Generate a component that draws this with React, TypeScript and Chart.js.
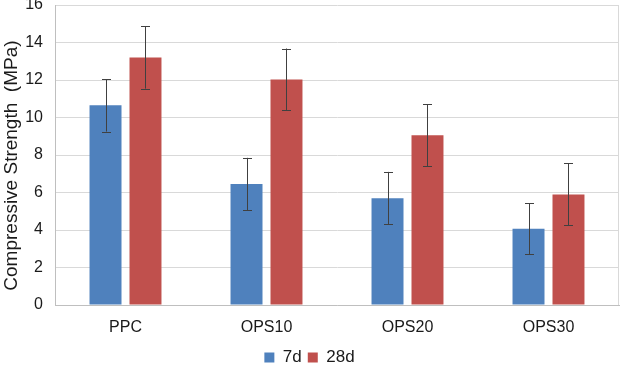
import React, { useEffect, useRef } from "react";
import { Chart, registerables } from "chart.js";

Chart.register(...registerables);

const categories = ["PPC", "OPS10", "OPS20", "OPS30"];
const seriesNames = ["7d", "28d"];
const values7d = [10.65, 6.45, 5.7, 4.07];
const values28d = [13.2, 12.03, 9.05, 5.9];
const err7d = [1.4, 1.4, 1.4, 1.37];
const err28d = [1.66, 1.65, 1.65, 1.65];
const yTicksMax = 16;
const yStep = 2;

const errorBarPlugin = {
  id: "errorBars",
  afterDatasetsDraw(chart: any) {
    const ctx = chart.ctx;
    const yScale = chart.scales.y;
    chart.data.datasets.forEach((ds: any, di: number) => {
      const meta = chart.getDatasetMeta(di);
      const errs = ds.errors as number[];
      meta.data.forEach((bar: any, i: number) => {
        const v = ds.data[i];
        const e = errs[i];
        const x = Math.round(bar.x) + 0.5;
        const yTop = yScale.getPixelForValue(v + e);
        const yBot = yScale.getPixelForValue(v - e);
        ctx.save();
        ctx.strokeStyle = "#404040";
        ctx.lineWidth = 1;
        ctx.beginPath();
        ctx.moveTo(x, yTop);
        ctx.lineTo(x, yBot);
        ctx.moveTo(x - 4.5, Math.round(yTop) + 0.5);
        ctx.lineTo(x + 4.5, Math.round(yTop) + 0.5);
        ctx.moveTo(x - 4.5, Math.round(yBot) + 0.5);
        ctx.lineTo(x + 4.5, Math.round(yBot) + 0.5);
        ctx.stroke();
        ctx.restore();
      });
    });
  },
};

const borderPlugin = {
  id: "areaBorder",
  afterDraw(chart: any) {
    const { ctx, chartArea } = chart;
    ctx.save();
    ctx.strokeStyle = "#D9D9D9";
    ctx.lineWidth = 1;
    ctx.beginPath();
    const x = Math.round(chartArea.right) - 0.5;
    ctx.moveTo(x, chartArea.top);
    ctx.lineTo(x, chartArea.bottom);
    ctx.stroke();
    ctx.restore();
  },
};

export default function App() {
  const canvasRef = useRef<HTMLCanvasElement>(null);

  useEffect(() => {
    document.body.style.margin = "0";
    const canvas = canvasRef.current;
    if (!canvas) return;
    const font = "'Liberation Sans', Arial, sans-serif";
    const chart = new Chart(canvas, {
      type: "bar",
      data: {
        labels: categories,
        datasets: [
          {
            label: seriesNames[0],
            data: values7d,
            errors: err7d,
            backgroundColor: "#4F81BD",
            borderWidth: 0,
            categoryPercentage: 0.567,
            barPercentage: 0.8,
          } as any,
          {
            label: seriesNames[1],
            data: values28d,
            errors: err28d,
            backgroundColor: "#C0504D",
            borderWidth: 0,
            categoryPercentage: 0.567,
            barPercentage: 0.8,
          } as any,
        ],
      },
      options: {
        animation: false,
        responsive: false,
        maintainAspectRatio: false,
        layout: { padding: { top: 5, right: 1, bottom: -10, left: 0 } },
        plugins: {
          legend: {
            position: "bottom",
            labels: {
              boxWidth: 10,
              boxHeight: 10,
              padding: 6,
              color: "#1a1a1a",
              font: { family: font, size: 17 },
            },
          },
          tooltip: { enabled: false },
        },
        scales: {
          x: {
            grid: { display: false },
            border: { color: "#BFBFBF" },
            ticks: {
              color: "#1a1a1a",
              font: { family: font, size: 16 },
              padding: 5,
            },
            afterFit(scale: any) {
              scale.height = 38;
            },
          },
          y: {
            min: 0,
            max: yTicksMax,
            grid: { color: "#D9D9D9", drawTicks: false },
            border: { color: "#BFBFBF" },
            ticks: {
              stepSize: yStep,
              color: "#1a1a1a",
              font: { family: font, size: 16 },
              padding: 12,
            },
            title: {
              display: true,
              text: "Compressive Strength  (MPa)    ",
              color: "#1a1a1a",
              font: { family: font, size: 19 },
              padding: { top: 0, bottom: 0 },
            },
            afterFit(scale: any) {
              scale.width = 55;
              scale.paddingTop = 0;
              scale.paddingBottom = 0;
            },
          },
        },
      },
      plugins: [errorBarPlugin, borderPlugin],
    });
    return () => chart.destroy();
  }, []);

  return (
    <div style={{ position: "fixed", left: 0, top: 0, width: 620, height: 366 }}>
      <canvas ref={canvasRef} width={620} height={366} style={{ width: 620, height: 366 }} />
    </div>
  );
}
